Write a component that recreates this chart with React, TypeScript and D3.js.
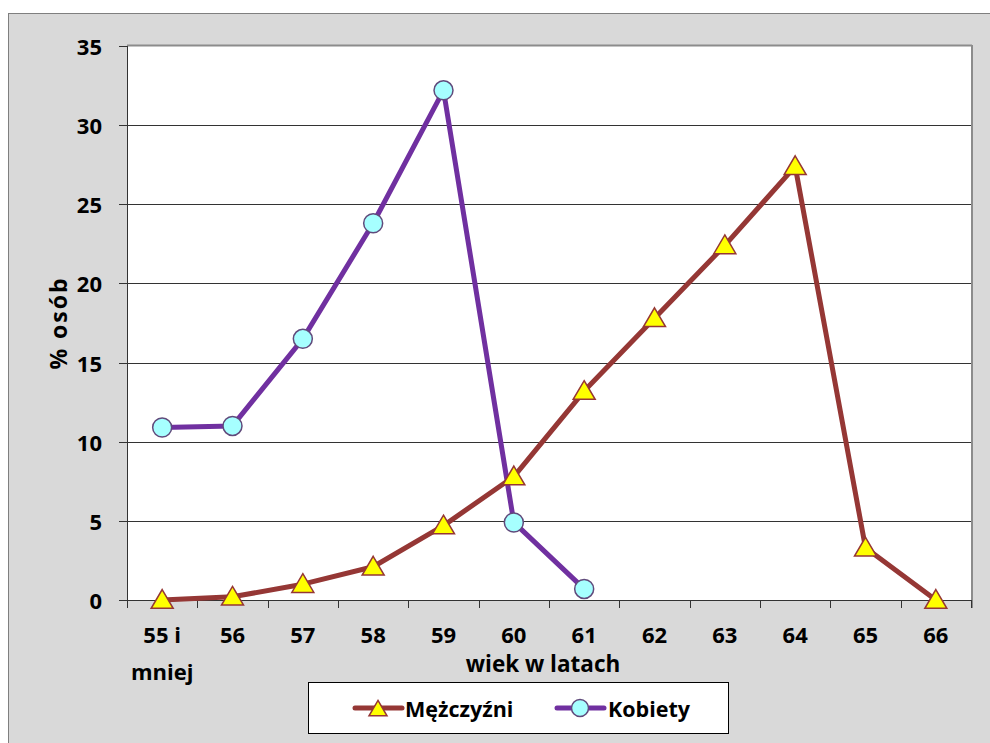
import React from "react";
import * as d3 from "d3";

const categories = ["55 i mniej", "56", "57", "58", "59", "60", "61", "62", "63", "64", "65", "66"];
const menValues: (number | null)[] = [0, 0.2, 1.0, 2.1, 4.7, 7.8, 13.2, 17.8, 22.4, 27.4, 3.3, 0];
const womenValues: (number | null)[] = [10.9, 11.0, 16.5, 23.8, 32.2, 4.9, 0.7, null, null, null, null, null];
const yTicks = [0, 5, 10, 15, 20, 25, 30, 35];
const seriesNames = ["Mężczyźni", "Kobiety"];

const W = 990, H = 743;
const plot = { left: 127, right: 971, top: 46, bottom: 600 };
const FONT = "'Open Sans', Lato, sans-serif";
const FW = 700;
const MEN = "#953735";
const WOMEN = "#7030A0";

function triPath(cx: number, cy: number, s = 11) {
  return `M${cx},${cy - s * 0.95} L${cx + s},${cy + s * 0.75} L${cx - s},${cy + s * 0.75} Z`;
}

export default function App() {
  const x = d3.scaleBand<string>().domain(categories).range([plot.left, plot.right]).padding(0);
  const y = d3.scaleLinear().domain([0, 35]).range([plot.bottom, plot.top]);
  const cx = (c: string) => (x(c) as number) + x.bandwidth() / 2;

  const line = d3
    .line<[string, number | null]>()
    .defined((d) => d[1] !== null)
    .x((d) => cx(d[0]))
    .y((d) => y(d[1] as number));

  const menData = categories.map((c, i) => [c, menValues[i]] as [string, number | null]);
  const womenData = categories.map((c, i) => [c, womenValues[i]] as [string, number | null]);

  return (
    <svg width={W} height={H} style={{ position: "absolute", left: 0, top: 0 }}>
      <rect x={8.5} y={13.5} width={W} height={H} fill="#D9D9D9" stroke="#7f7f7f" strokeWidth={1} />
      {/* plot area */}
      <rect x={plot.left} y={plot.top} width={plot.right - plot.left} height={plot.bottom - plot.top} fill="#fff" />
      <line x1={plot.left} x2={plot.right + 1} y1={plot.top - 0.5} y2={plot.top - 0.5} stroke="#8c8c8c" strokeWidth={2} />
      <line x1={plot.right + 1} x2={plot.right + 1} y1={plot.top - 1} y2={plot.bottom + 8} stroke="#8c8c8c" strokeWidth={2} />
      {yTicks.map((t) => (
        <g key={t}>
          {t > 0 && t < 35 && (
            <line x1={plot.left} x2={plot.right} y1={Math.round(y(t)) + 0.5} y2={Math.round(y(t)) + 0.5} stroke="#333" strokeWidth={1} />
          )}
          <line x1={plot.left - 8} x2={plot.left} y1={Math.round(y(t)) + 0.5} y2={Math.round(y(t)) + 0.5} stroke="#333" strokeWidth={1} />
          <text x={102} y={y(t)} textAnchor="end" dominantBaseline="central" fontFamily={FONT} fontWeight={FW} fontSize={22} fill="#000">
            {t}
          </text>
        </g>
      ))}
      {/* axes */}
      <line x1={plot.left + 0.5} x2={plot.left + 0.5} y1={plot.top} y2={plot.bottom} stroke="#333" strokeWidth={1} />
      <line x1={plot.left} x2={plot.right} y1={plot.bottom + 0.5} y2={plot.bottom + 0.5} stroke="#333" strokeWidth={1} />
      {d3.range(categories.length + 1).map((i) => {
        const xx = Math.round(plot.left + i * x.step()) + 0.5;
        return <line key={i} x1={xx} x2={xx} y1={plot.bottom} y2={plot.bottom + 8} stroke="#333" strokeWidth={1} />;
      })}
      {categories.map((c) => {
        const parts = c === "55 i mniej" ? ["55 i", "mniej"] : [c];
        return (
          <text key={c} x={cx(c)} y={634} textAnchor="middle" dominantBaseline="central" fontFamily={FONT} fontWeight={FW} fontSize={22} fill="#000">
            {parts.map((p, i) => (
              <tspan key={i} x={cx(c)} dy={i === 0 ? 0 : 37}>
                {p}
              </tspan>
            ))}
          </text>
        );
      })}
      <text x={543} y={663} textAnchor="middle" dominantBaseline="central" fontFamily={FONT} fontWeight={FW} fontSize={22.5}>
        wiek w latach
      </text>
      <text
        transform={`translate(58,${(plot.top + plot.bottom) / 2}) rotate(-90)`}
        textAnchor="middle"
        dominantBaseline="central"
        fontFamily={FONT}
        fontWeight={FW}
        fontSize={23}
        letterSpacing={2}
      >
        % osób
      </text>
      {/* series */}
      <path d={line(menData) || ""} fill="none" stroke={MEN} strokeWidth={5} strokeLinejoin="round" />
      <path d={line(womenData) || ""} fill="none" stroke={WOMEN} strokeWidth={5} strokeLinejoin="round" />
      {menData.map((d) =>
        d[1] === null ? null : (
          <path key={d[0]} d={triPath(cx(d[0]), y(d[1]))} fill="#FFFF00" stroke={MEN} strokeWidth={1.5} />
        )
      )}
      {womenData.map((d) =>
        d[1] === null ? null : (
          <circle key={d[0]} cx={cx(d[0])} cy={y(d[1])} r={9.5} fill="#A6FFFF" stroke="#604A7B" strokeWidth={1.5} />
        )
      )}
      {/* legend */}
      <rect x={308.5} y={682.5} width={420} height={51} fill="#fff" stroke="#000" strokeWidth={1} />
      <line x1={355} x2={402} y1={708} y2={708} stroke={MEN} strokeWidth={5} strokeLinecap="round" />
      <path d={triPath(378, 709, 9)} fill="#FFFF00" stroke={MEN} strokeWidth={1.5} />
      <text x={405} y={708} dominantBaseline="central" fontFamily={FONT} fontWeight={FW} fontSize={21.5}>
        {seriesNames[0]}
      </text>
      <line x1={557} x2={604} y1={708} y2={708} stroke={WOMEN} strokeWidth={5} strokeLinecap="round" />
      <circle cx={580} cy={708} r={8.5} fill="#A6FFFF" stroke="#604A7B" strokeWidth={1.5} />
      <text x={608} y={708} dominantBaseline="central" fontFamily={FONT} fontWeight={FW} fontSize={21.5}>
        {seriesNames[1]}
      </text>
    </svg>
  );
}
